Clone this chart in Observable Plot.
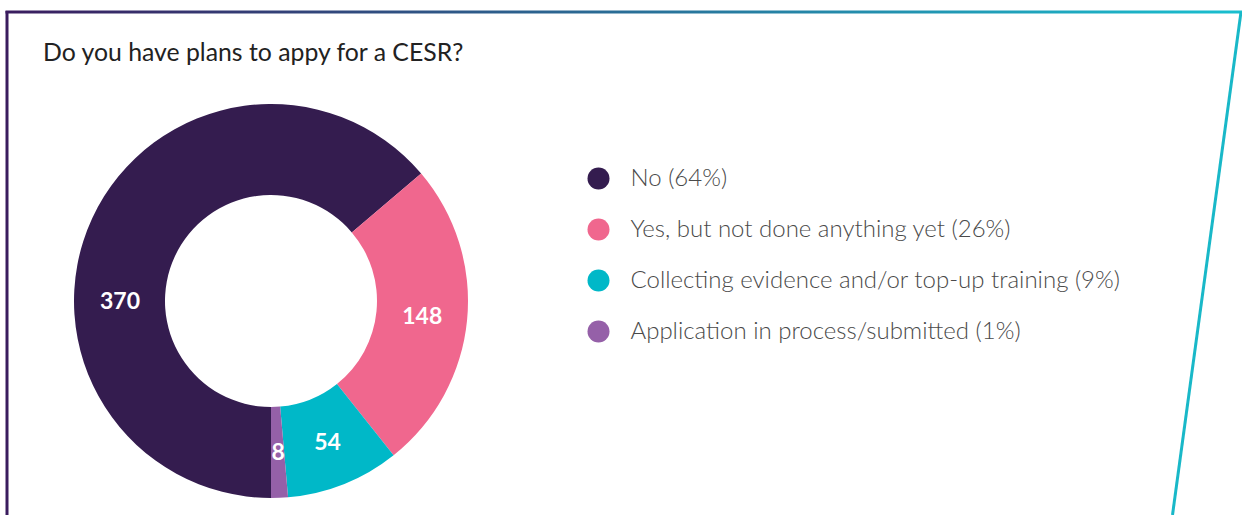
<!DOCTYPE html>
<html><head><meta charset="utf-8">
<script src="https://cdn.jsdelivr.net/npm/d3@7"></script>
<script src="https://cdn.jsdelivr.net/npm/@observablehq/plot@0.6"></script>
<style>
html,body{margin:0;padding:0;background:#fff;}
#wrap{position:relative;width:1242px;height:515px;overflow:hidden;font-family:Lato,sans-serif;}
#decor{position:absolute;left:0;top:0;}
#title{position:absolute;left:43px;top:37px;font-size:24.8px;color:#222;font-weight:400;white-space:nowrap;line-height:30px;}
#donut{position:absolute;left:0;top:0;}
#legend{position:absolute;left:580px;top:150px;}
</style></head><body>
<div id="wrap">
<svg id="decor" width="1242" height="515">
  <defs><linearGradient id="tg" gradientUnits="userSpaceOnUse" x1="0" x2="1242" y1="0" y2="0">
    <stop offset="0" stop-color="#3a1c5e"/><stop offset="1" stop-color="#19bfcf"/>
  </linearGradient></defs>
  <rect x="5.5" y="10.5" width="1236.5" height="3" fill="url(#tg)"/>
  <line x1="7" y1="11" x2="7" y2="515" stroke="#3a1c5e" stroke-width="3"/>
  <line x1="1241" y1="12" x2="1172.5" y2="515" stroke="#19b8c8" stroke-width="3"/>
</svg>
<div id="title">Do you have plans to appy for a CESR?</div>
<div id="donut"></div>
<div id="legend"></div>
</div>
<script>
const categories = ["No", "Yes, but not done anything yet", "Collecting evidence and/or top-up training", "Application in process/submitted"];
const counts = [370, 148, 54, 8];
const percents = [64, 26, 9, 1];
const colors = ["#341c4f", "#f0678e", "#00b8c8", "#9560a8"];

const innerRatio = 106 / 197;
const arcs = d3.pie().sort(null).startAngle(Math.PI).endAngle(3 * Math.PI)(counts);
const rows = categories.map((c, i) => ({category: c, count: counts[i], pct: percents[i], arc: arcs[i]}));
const colorScale = d3.scaleOrdinal(categories, colors);

const labelR = (1 + innerRatio) / 2;
const labels = rows.map(d => {
  const a0 = d.arc.startAngle, a1 = d.arc.endAngle;
  const a = Math.min((a0 + a1) / 2, a0 + Math.PI / 2);
  return {text: String(d.count), x: labelR * Math.sin(a), y: labelR * Math.cos(a)};
});

function donutMark(index, scales) {
  const cx = scales.x(0), cy = scales.y(0);
  const ro = scales.x(1) - cx, ri = ro * innerRatio;
  const arc = d3.arc().innerRadius(ri).outerRadius(ro);
  const g = d3.create("svg:g").attr("transform", `translate(${cx},${cy})`);
  g.selectAll("path").data(rows).join("path")
    .attr("d", d => arc(d.arc))
    .attr("fill", d => colorScale(d.category));
  return g.node();
}

const donut = Plot.plot({
  width: 560, height: 515,
  margin: 0,
  x: {domain: [-1, 1], range: [74, 468], axis: null},
  y: {domain: [-1, 1], range: [498, 104], axis: null},
  style: {background: "transparent", fontFamily: "Lato, sans-serif"},
  marks: [
    donutMark,
    Plot.text(labels, {x: "x", y: "y", text: "text", fill: "white", fontSize: 23, fontWeight: 700})
  ]
});
document.getElementById("donut").appendChild(donut);

const legend = Plot.plot({
  width: 640, height: 210,
  margin: 0,
  x: {domain: [0, 1], range: [18, 50], axis: null},
  y: {type: "point", domain: categories, range: [27, 181], padding: 0, axis: null},
  color: {domain: categories, range: colors},
  style: {background: "transparent", fontFamily: "Lato, sans-serif"},
  marks: [
    Plot.dot(rows, {x: () => 0, y: "category", fill: "category", r: 11, stroke: null}),
    Plot.text(rows, {x: () => 1, y: "category", text: d => `${d.category} (${d.pct}%)`, textAnchor: "start", fill: "#4a4a4a", fontSize: 24, fontWeight: 300})
  ]
});
document.getElementById("legend").appendChild(legend);
</script>
</body></html>
